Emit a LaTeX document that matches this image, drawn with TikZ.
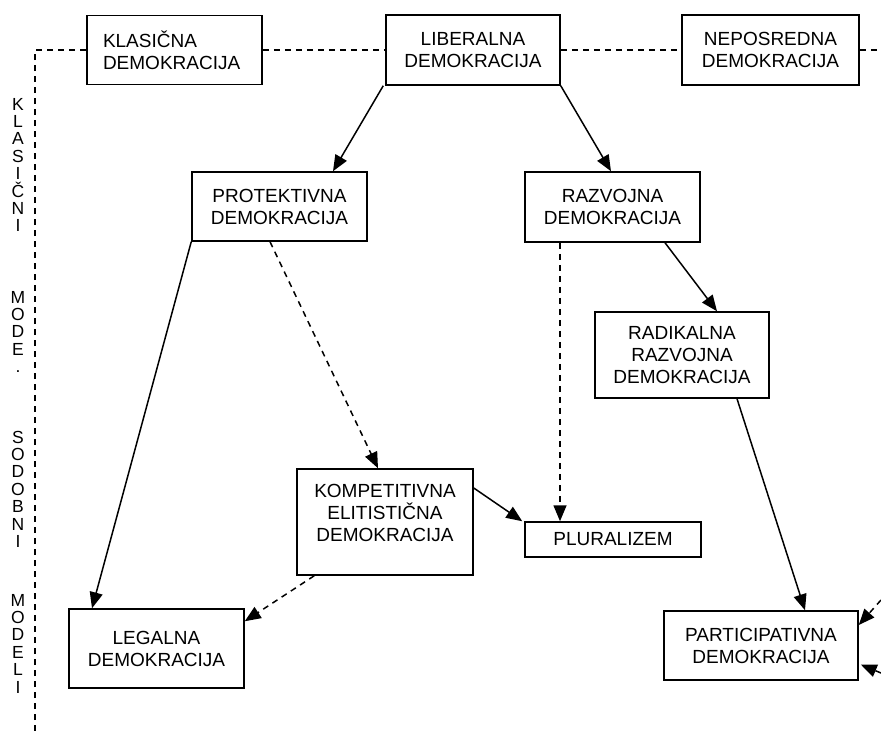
\documentclass[tikz,border=0pt]{standalone}
\usepackage{fontspec}
\setmainfont{Liberation Sans}
\usetikzlibrary{arrows.meta}
\begin{document}
\begin{tikzpicture}[x=1pt,y=-1pt,line width=1.5pt,
  box/.style={draw,rectangle,inner sep=0pt,align=center,font=\fontsize{19}{22}\selectfont},
  boxtext/.style={inner sep=0pt,align=center,font=\fontsize{19}{22}\selectfont},
  vl/.style={inner sep=0pt,anchor=base,font=\fontsize{17.5}{18}\selectfont},
  arr/.style={-{Triangle[length=16pt,width=13pt]}},
  dsh/.style={dash pattern=on 6pt off 5pt}]
\useasboundingbox (0,0) rectangle (881,731);
% boxes
\node[box,minimum width=175pt,minimum height=69pt,text width=143pt,align=left] (kla) at (174.5,50) {KLASIČNA\\DEMOKRACIJA};
\node[box,minimum width=174pt,minimum height=70pt] (lib) at (473,50) {LIBERALNA\\DEMOKRACIJA};
\node[box,minimum width=177pt,minimum height=70pt] (nep) at (770.5,50) {NEPOSREDNA\\DEMOKRACIJA};
\node[box,minimum width=175pt,minimum height=69pt] (pro) at (279.5,206.5) {PROTEKTIVNA\\DEMOKRACIJA};
\node[box,minimum width=175pt,minimum height=70pt] (raz) at (612.5,207) {RAZVOJNA\\DEMOKRACIJA};
\node[box,minimum width=174pt,minimum height=86pt] (rad) at (682,355) {RADIKALNA\\RAZVOJNA\\DEMOKRACIJA};
\node[box,minimum width=176pt,minimum height=106pt] (kom) at (385,522) {};
\node[boxtext] (komt) at ([yshift=9pt]kom.center) {KOMPETITIVNA\\ELITISTIČNA\\DEMOKRACIJA};
\node[box,minimum width=176pt,minimum height=35pt] (plu) at (613,539.5) {PLURALIZEM};
\node[box,minimum width=175pt,minimum height=79pt] (leg) at (156.5,648.5) {LEGALNA\\DEMOKRACIJA};
\node[box,minimum width=194pt,minimum height=69pt] (par) at (761,645.5) {PARTICIPATIVNA\\DEMOKRACIJA};
% frame coordinates
\coordinate (c0) at (35,50);
\coordinate (c1) at (35,731);
\coordinate (c2) at (881,50);
\coordinate (e1) at (881,600);
\coordinate (e2) at (881,673);
% dashed frame
\draw[dsh] (c1) -- (c0) -- (kla.west);
\draw[dsh] (kla.east) -- (lib.west);
\draw[dsh] (lib.east) -- (nep.west);
\draw[dsh] (nep.east) -- (c2);
% vertical labels
\foreach \ch [count=\k] in {K,L,A,S,I,Č,N,I}
  \node[vl] (va\k) at (18,{110+17.4*(\k-1)}) {\ch};
\foreach \ch [count=\k] in {M,O,D,E,.}
  \node[vl] (vb\k) at (18,{303+17.4*(\k-1)}) {\ch};
\foreach \ch [count=\k] in {S,O,D,O,B,N,I}
  \node[vl] (vc\k) at (18,{443+17.4*(\k-1)}) {\ch};
\foreach \ch [count=\k] in {M,O,D,E,L,I}
  \node[vl] (vd\k) at (18,{606+17.4*(\k-1)}) {\ch};
% connectors
\draw[arr] ([xshift=-2pt]lib.south west) -- ([xshift=53.5pt]pro.north);
\draw[arr] (lib.south east) -- ([xshift=-1.5pt]raz.north);
\draw[arr] (pro.south west) -- ([xshift=-64.5pt]leg.north);
\draw[arr,dsh] ([xshift=-9.5pt]pro.south) -- ([xshift=-7pt]kom.north);
\draw[arr,dsh] ([xshift=-52.5pt]raz.south) -- ([xshift=-53pt]plu.north);
\draw[arr] ([xshift=52.5pt]raz.south) -- ([xshift=35pt]rad.north);
\draw[arr] ([yshift=34pt]kom.east) -- ([xshift=-2pt]plu.north west);
\draw[arr,dsh] ([xshift=18pt]kom.south west) -- ([yshift=-13pt]leg.north east);
\draw[arr] ([xshift=55pt]rad.south) -- ([xshift=44pt]par.north);
\draw[arr,dsh] (e1) -- ([yshift=20.5pt]par.east);
\draw[arr,dsh] (e2) -- ([xshift=2pt,yshift=-19pt]par.east);
\end{tikzpicture}
\end{document}
